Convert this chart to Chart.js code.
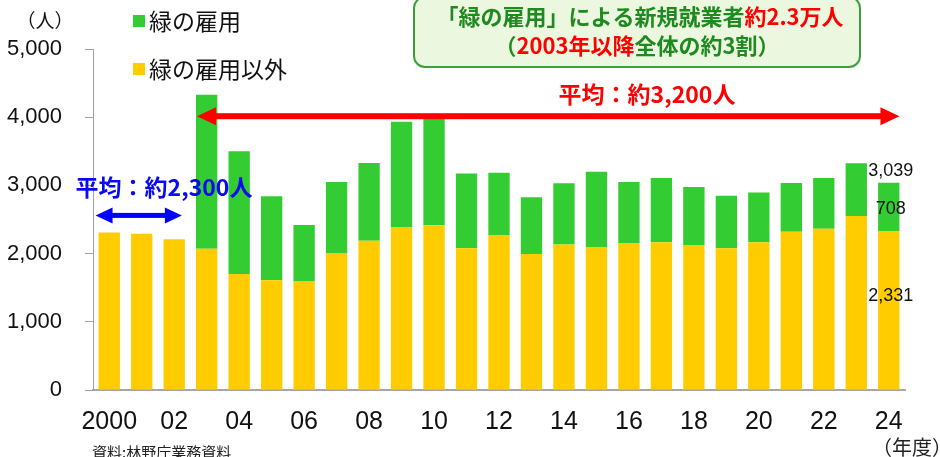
<!DOCTYPE html>
<html><head><meta charset="utf-8">
<script src="https://cdn.jsdelivr.net/npm/chart.js@4"></script>
<style>html,body{margin:0;padding:0;background:#fff}#wrap{width:940px;height:457px}</style>
</head><body><div id="wrap"><canvas id="c" width="940" height="457"></canvas></div>
<script>
const categories = ['2000','2001','2002','2003','2004','2005','2006','2007','2008','2009','2010','2011','2012','2013','2014','2015','2016','2017','2018','2019','2020','2021','2022','2023','2024'];
const xTickLabels = ['2000','','02','','04','','06','','08','','10','','12','','14','','16','','18','','20','','22','','24'];
const yTickValues = [0,1000,2000,3000,4000,5000];
const otherValues = [2310,2290,2210,2070,1700,1610,1590,2000,2190,2390,2415,2080,2265,1995,2135,2090,2155,2165,2125,2080,2165,2320,2365,2550,2331];
const greenValues = [null,null,null,2260,1800,1230,830,1050,1140,1545,1590,1095,920,830,895,1110,895,945,850,770,730,715,745,775,708];
const seriesNames = ['緑の雇用','緑の雇用以外'];
const avgAfter = '平均：約3,200人';
const avgBefore = '平均：約2,300人';
const avgAfterLevel = 4000;
const avgBeforeLevel = 2560;

const GREEN = '#33CC33', YELLOW = '#FFCC00';
const JP = '"Noto Sans CJK JP", sans-serif';

function arrow(ctx, x1, x2, y, th, hl, hh, color, both) {
  ctx.save();
  ctx.fillStyle = color;
  ctx.beginPath();
  const sx = both ? x1 + hl : x1 + hl;
  ctx.fillRect(x1 + hl - 1, y - th / 2, (x2 - hl) - (x1 + hl) + 2, th);
  // right head
  ctx.beginPath(); ctx.moveTo(x2, y); ctx.lineTo(x2 - hl, y - hh); ctx.lineTo(x2 - hl, y + hh); ctx.closePath(); ctx.fill();
  ctx.beginPath(); ctx.moveTo(x1, y); ctx.lineTo(x1 + hl, y - hh); ctx.lineTo(x1 + hl, y + hh); ctx.closePath(); ctx.fill();
  ctx.restore();
}

function segText(ctx, segs, cx, y, font) {
  ctx.font = font;
  let w = 0; segs.forEach(s => w += ctx.measureText(s[0]).width);
  let x = cx - w / 2;
  ctx.textAlign = 'left'; ctx.textBaseline = 'middle';
  segs.forEach(s => { ctx.fillStyle = s[1]; ctx.fillText(s[0], x, y); x += ctx.measureText(s[0]).width; });
}

const deco = {
  id: 'deco',
  afterDatasetsDraw(chart) {
    const ctx = chart.ctx;
    const y = chart.scales.y;
    const m0 = chart.getDatasetMeta(0).data; // other (yellow)
    const m1 = chart.getDatasetMeta(1).data; // green
    const bw = m0[0].width;
    ctx.save();
    // unit label
    ctx.fillStyle = '#111'; ctx.font = '19px ' + JP; ctx.textAlign = 'center'; ctx.textBaseline = 'middle';
    ctx.fillText('（人）', 45, 21);
    // legend
    ctx.fillStyle = GREEN; ctx.fillRect(133, 15, 12, 12);
    ctx.fillStyle = YELLOW; ctx.fillRect(133, 63, 12, 12);
    ctx.fillStyle = '#111'; ctx.font = '23px ' + JP; ctx.textAlign = 'left';
    ctx.fillText(seriesNames[0], 149, 21);
    ctx.fillText(seriesNames[1], 149, 69);
    // info box
    ctx.beginPath(); ctx.roundRect(414, -3, 446, 70, 11);
    ctx.fillStyle = '#EBF7DF'; ctx.fill();
    ctx.lineWidth = 2; ctx.strokeStyle = '#3E9E3E'; ctx.stroke();
    const DG = '#1F8A1F', R = '#FF0000';
    segText(ctx, [['「緑の雇用」による新規就業者', DG], ['約2.3万人', R]], 640, 17, 'bold 22px ' + JP);
    segText(ctx, [['（', DG], ['2003年以降', R], ['全体の約3割）', DG]], 637, 46, 'bold 22px ' + JP);
    // red arrow
    const ry = y.getPixelForValue(avgAfterLevel) - 1;
    arrow(ctx, m1[3].x - bw / 2 + 1, m1[24].x + bw / 2, ry, 6, 19, 9, '#FF0000', true);
    ctx.fillStyle = '#FF0000'; ctx.font = 'bold 23px ' + JP; ctx.textAlign = 'center'; ctx.textBaseline = 'middle';
    ctx.fillText(avgAfter, 647, ry - 22);
    // blue arrow
    const by = y.getPixelForValue(avgBeforeLevel);
    arrow(ctx, m0[0].x - bw / 2 - 3, m0[2].x + bw / 2 - 3, by, 5, 17, 8, '#0000FF', true);
    ctx.fillStyle = '#0A0AF0'; ctx.font = 'bold 23px ' + JP;
    ctx.fillText(avgBefore, 164, by - 28);
    // value labels for last year
    const last = categories.length - 1;
    const tot = otherValues[last] + greenValues[last];
    const lx = m0[last].x + 2;
    ctx.fillStyle = '#111'; ctx.font = '18px "Liberation Sans", Arial, sans-serif';
    ctx.fillText(tot.toLocaleString('en-US'), lx, y.getPixelForValue(tot) - 12);
    ctx.fillText(greenValues[last].toLocaleString('en-US'), lx, y.getPixelForValue(otherValues[last] + greenValues[last] / 2) + 2);
    ctx.fillText(otherValues[last].toLocaleString('en-US'), lx, y.getPixelForValue(otherValues[last] / 2) - 14);
    // footer texts
    ctx.fillStyle = '#222'; ctx.font = '20px ' + JP; ctx.textAlign = 'left';
    ctx.fillText('（年度）', 872, 447);
    ctx.font = '15px ' + JP; ctx.textBaseline = 'top';
    ctx.fillText('資料:林野庁業務資料', 92, 445);
    ctx.restore();
  }
};

new Chart(document.getElementById('c'), {
  type: 'bar',
  data: {
    labels: categories,
    datasets: [
      { label: seriesNames[1], data: otherValues, backgroundColor: YELLOW, stack: 's' },
      { label: seriesNames[0], data: greenValues, backgroundColor: GREEN, stack: 's' }
    ]
  },
  options: {
    responsive: false, animation: false,
    layout: { padding: { top: 49, right: 35, left: 0, bottom: 0 } },
    plugins: { legend: { display: false }, tooltip: { enabled: false } },
    datasets: { bar: { categoryPercentage: 1, barPercentage: 0.657 } },
    scales: {
      x: {
        stacked: true,
        grid: { display: false, drawTicks: false },
        border: { color: '#A6A6A6', width: 2 },
        ticks: { autoSkip: false, maxRotation: 0, padding: 17, color: '#111',
          font: { family: '"Liberation Sans", Arial, sans-serif', size: 25 },
          callback: (v, i) => xTickLabels[i] },
        afterFit: s => { s.height = 67; }
      },
      y: {
        stacked: true, min: 0, max: 5000,
        afterBuildTicks: s => { s.ticks = yTickValues.map(v => ({ value: v })); },
        grid: { display: true, drawOnChartArea: false, tickLength: 8, color: '#A0A0A0' },
        border: { color: '#A0A0A0', width: 1 },
        ticks: { padding: 23, color: '#111',
          font: { family: '"Liberation Sans", Arial, sans-serif', size: 22 },
          callback: v => v.toLocaleString('en-US') },
        afterFit: s => { s.width = 93; }
      }
    }
  },
  plugins: [deco]
});
</script></body></html>
